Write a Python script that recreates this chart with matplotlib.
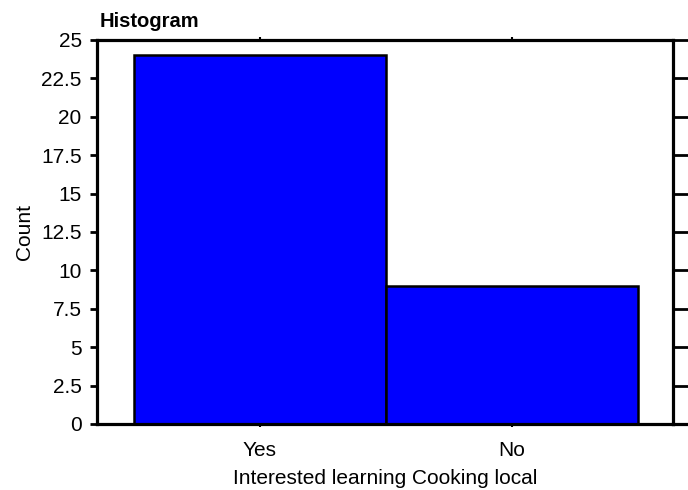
import numpy as np
import matplotlib.pyplot as plt

# data
categories = ['Yes', 'No']
counts = [24, 9]
y_ticks = [0, 2.5, 5, 7.5, 10, 12.5, 15, 17.5, 20, 22.5, 25]
y_tick_labels = ['0', '2.5', '5', '7.5', '10', '12.5', '15', '17.5', '20', '22.5', '25']

plt.rcParams['font.family'] = ['Liberation Sans', 'DejaVu Sans']

fig = plt.figure(figsize=(6.88, 4.9), dpi=100)
ax = fig.add_axes([0.141, 0.1347, 0.837, 0.7837])

x = np.arange(len(categories))
ax.bar(x, counts, width=1.0, color='#0000ff', edgecolor='black', linewidth=1.8, zorder=2)

ax.set_xlim(-0.647, 1.639)
ax.set_ylim(0, 25)
ax.set_yticks(y_ticks)
ax.set_yticklabels(y_tick_labels, fontsize=15)
ax.set_xticks(x)
ax.set_xticklabels(categories, fontsize=15)

for s in ax.spines.values():
    s.set_linewidth(2.3)

ax.tick_params(axis='y', direction='out', length=5, width=2, pad=6)
ax.tick_params(axis='x', direction='out', length=2, width=1.5, pad=10, top=True)

# right-hand ticks, longer, no labels
ax2 = ax.twinx()
ax2.set_ylim(0, 25)
ax2.set_yticks(y_ticks)
ax2.tick_params(axis='y', direction='out', length=11, width=2, labelright=False)
for s in ax2.spines.values():
    s.set_visible(False)

# bottom line running past the right spine
ax.plot([1.0, 1.05], [0, 0], transform=ax.transAxes, color='black', lw=2.3, clip_on=False)

ax.set_ylabel('Count', fontsize=15, labelpad=5)
ax.set_xlabel('Interested learning Cooking local', fontsize=15, labelpad=7)
ax.set_title('Histogram', fontsize=14.5, fontweight='bold', loc='left', pad=9, x=0.004)

plt.savefig('out.png', dpi=100)
